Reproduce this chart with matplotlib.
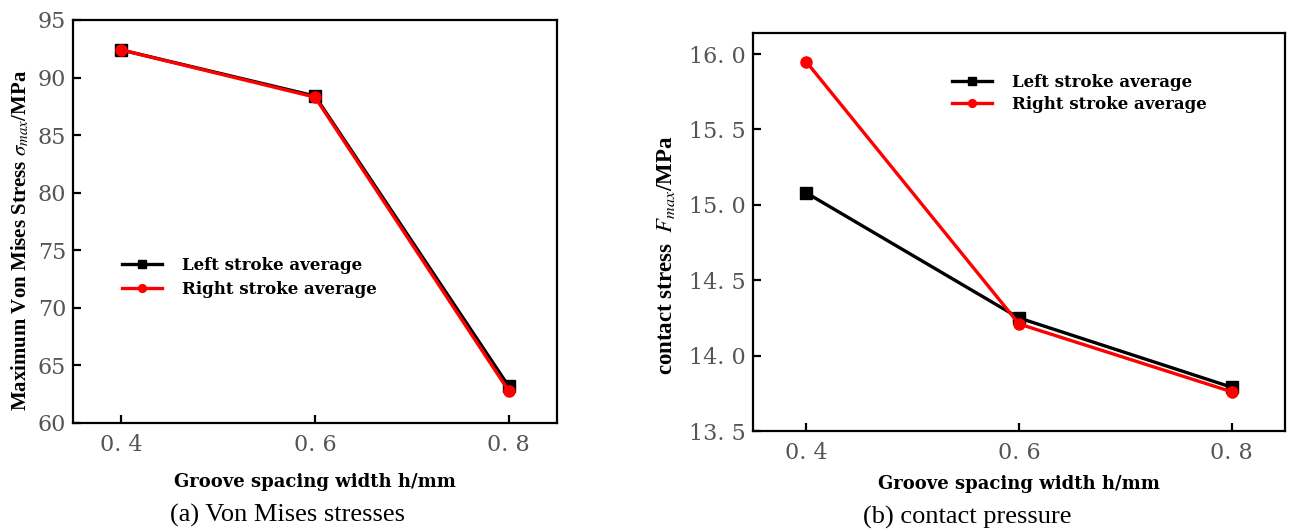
import matplotlib
matplotlib.use("Agg")
import matplotlib.pyplot as plt
from matplotlib.ticker import FixedLocator, FuncFormatter

# Data
widths = [0.4, 0.6, 0.8]
vm_left = [92.4, 88.4, 63.2]
vm_right = [92.4, 88.3, 62.8]
cp_left = [15.08, 14.25, 13.79]
cp_right = [15.95, 14.21, 13.76]
x_ticks = [0.4, 0.6, 0.8]
vm_yticks = [60, 65, 70, 75, 80, 85, 90, 95]
cp_yticks = [13.5, 14.0, 14.5, 15.0, 15.5, 16.0]
series_names = ["Left stroke average", "Right stroke average"]
x_label = "Groove spacing width h/mm"
vm_ylabel = r"Maximum Von Mises Stress $\sigma_{max}\mathregular{/MPa}$"
cp_ylabel = r"contact stress  $F_{max}\mathregular{/MPa}$"
captions = ["(a) Von Mises stresses", "(b) contact pressure"]

plt.rcParams['mathtext.fontset'] = 'stix'
plt.rcParams['font.family'] = ['DejaVu Serif']

fig = plt.figure(figsize=(12.9, 5.31), dpi=100)
ax1 = fig.add_axes([73/1290, (531-423)/531, 484/1290, 403/531])
ax2 = fig.add_axes([753/1290, (531-431)/531, 532/1290, 398/531])

tick_color = '#555555'
xlab_font = dict(family='DejaVu Serif', weight='bold', size=13)

def fmt_dec(v, p):
    s = f"{v:.1f}"
    return s.replace('.', '. ')

def style(ax):
    for sp in ax.spines.values():
        sp.set_linewidth(1.6)
        sp.set_color('black')
    ax.tick_params(direction='in', length=6, width=1.6, colors='black',
                   labelcolor=tick_color, labelsize=16)
    ax.tick_params(axis='x', pad=8)
    ax.tick_params(axis='y', pad=5)
    for lab in ax.get_xticklabels() + ax.get_yticklabels():
        lab.set_family('DejaVu Serif')
    ax.xaxis.set_major_locator(FixedLocator(x_ticks))
    ax.xaxis.set_major_formatter(FuncFormatter(fmt_dec))

leg_prop = dict(family='DejaVu Serif', weight='bold', size=12)

# Left panel
ax1.plot(widths, vm_left, color='black', lw=2.4, marker='s', ms=8, label=series_names[0])
ax1.plot(widths, vm_right, color='red', lw=2.4, marker='o', ms=8, label=series_names[1])
ax1.set_xlim(0.35, 0.85)
ax1.set_ylim(60, 95)
ax1.yaxis.set_major_locator(FixedLocator(vm_yticks))
style(ax1)
ax1.set_xlabel(x_label, **xlab_font)
ax1.xaxis.set_label_coords(0.5, -0.125)
ax1.set_ylabel(vm_ylabel, family='Liberation Serif', weight='bold', size=15)
ax1.yaxis.set_label_coords(-0.087, 0.452)
ax1.legend(loc='upper left', bbox_to_anchor=(0.07, 0.45), frameon=False,
           prop=leg_prop, handlelength=2.4, handletextpad=1.2,
           labelspacing=0.45, markerscale=0.7)

# Right panel
ax2.plot(widths, cp_left, color='black', lw=2.4, marker='s', ms=8, label=series_names[0])
ax2.plot(widths, cp_right, color='red', lw=2.4, marker='o', ms=8, label=series_names[1])
ax2.set_xlim(0.35, 0.85)
ax2.set_ylim(13.5, 16.14)
ax2.yaxis.set_major_locator(FixedLocator(cp_yticks))
style(ax2)
ax2.yaxis.set_major_formatter(FuncFormatter(fmt_dec))
ax2.set_xlabel(x_label, **xlab_font)
ax2.xaxis.set_label_coords(0.5, -0.11)
ax2.set_ylabel(cp_ylabel, family='Liberation Serif', weight='bold', size=16.5)
ax2.yaxis.set_label_coords(-0.143, 0.442)
ax2.legend(loc='upper left', bbox_to_anchor=(0.345, 0.935), frameon=False,
           prop=leg_prop, handlelength=2.4, handletextpad=1.2,
           labelspacing=0.3, markerscale=0.7)

fig.text(288/1290, 1 - 515/531, captions[0], ha='center', va='center',
         family='Liberation Serif', size=19)
fig.text(967/1290, 1 - 517/531, captions[1], ha='center', va='center',
         family='Liberation Serif', size=19)

fig.savefig("out.png", dpi=100)
